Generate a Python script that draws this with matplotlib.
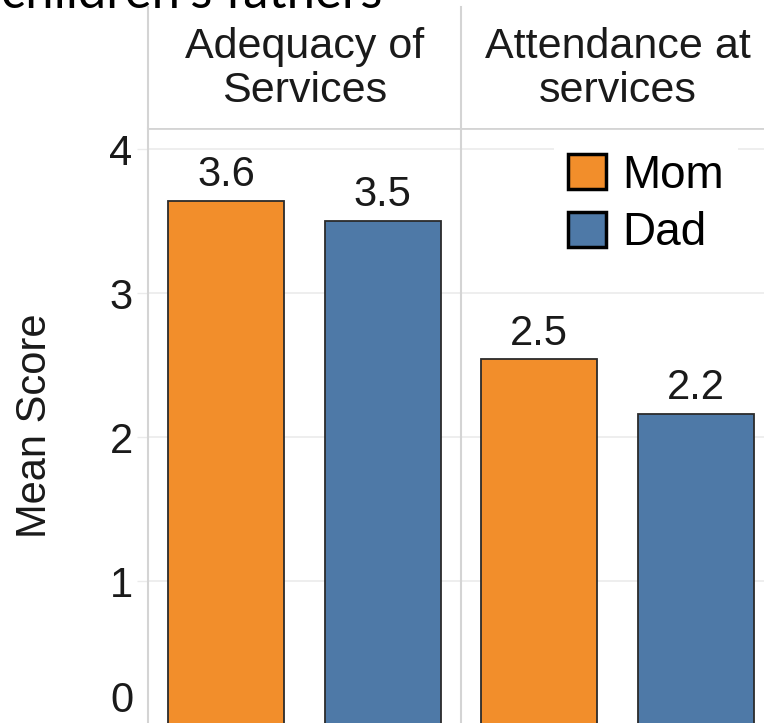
import matplotlib.pyplot as plt
from matplotlib.patches import Patch

plt.rcParams['font.family'] = ['Liberation Sans', 'DejaVu Sans']

# data
panels = ["Adequacy of\nServices", "Attendance at\nservices"]
groups = ["Mom", "Dad"]
mom_scores = [3.64, 2.54]
dad_scores = [3.50, 2.16]
y_ticks = [0, 1, 2, 3, 4]

ORANGE = '#F28E2B'
BLUE = '#4E79A7'
LINE = '#d4d4d4'
GRID = '#ebebeb'
TXT = '#1a1a1a'

W, H = 764, 723


def frame(x0, y0, x1, y1):
    # pixel box (top-left origin) -> figure fraction rect
    return [x0 / W, 1 - y1 / H, (x1 - x0) / W, (y1 - y0) / H]


fig = plt.figure(figsize=(W / 100, H / 100), dpi=100)

ax1 = fig.add_axes(frame(148, 128, 461, 725))
ax2 = fig.add_axes(frame(461, 128, 774, 725), sharey=ax1)
hx1 = fig.add_axes(frame(148, 7, 461, 128))
hx2 = fig.add_axes(frame(461, 7, 774, 128))

for i, (ax, hx) in enumerate([(ax1, hx1), (ax2, hx2)]):
    bars = ax.bar(range(len(groups)), [mom_scores[i], dad_scores[i]], width=0.74,
                  color=[ORANGE, BLUE], edgecolor='#2b2b2b', linewidth=1.3, zorder=2)
    ax.bar_label(bars, fmt='%.1f', padding=4, fontsize=30, color=TXT)
    ax.set_xlim(-0.5, 1.5)
    ax.set_xticks([])
    ax.yaxis.grid(True, color=GRID, linewidth=1.2, zorder=0)
    ax.set_axisbelow(True)
    for side in ['right', 'bottom']:
        ax.spines[side].set_visible(False)
    ax.spines['left'].set_color(LINE)
    ax.spines['top'].set_color(LINE)
    ax.spines['left'].set_linewidth(1.5)
    ax.spines['top'].set_linewidth(2)

    # header strip
    hx.set_xlim(0, 1)
    hx.set_ylim(0, 1)
    hx.set_xticks([])
    hx.set_yticks([])
    for side in ['top', 'right', 'bottom']:
        hx.spines[side].set_visible(False)
    hx.spines['left'].set_color(LINE)
    hx.spines['left'].set_linewidth(1.5)
    hx.text(0.5, 0.49, panels[i], ha='center', va='center', fontsize=31,
            color=TXT, linespacing=1.12)

ax1.set_ylim(0, 4.146)
ax1.set_yticks(y_ticks)
# the lowest label sits just above the cut edge, drawn separately below
ax1.set_yticklabels([''] + [str(t) for t in y_ticks[1:]])
ax1.tick_params(axis='y', length=8, width=1, color=GRID, pad=3, labelsize=30,
                labelcolor=TXT)
ax1.annotate(str(y_ticks[0]), xy=(0, y_ticks[0]), xycoords=ax1.get_yaxis_transform(),
             xytext=(-15, 13), textcoords='offset pixels', ha='right', va='baseline',
             fontsize=30, color=TXT)
ax2.tick_params(axis='y', left=False, labelleft=False)

fig.text(35 / W, 1 - 426 / H, "Mean Score", rotation=90, ha='center', va='center',
         fontsize=30, color=TXT)

# cut-off slide text above the chart
fig.text(1 / W, 1 - 8 / H, "children's fathers", ha='left', va='baseline',
         fontsize=36.5, color='black', family=['Lato', 'DejaVu Sans'])

handles = [Patch(facecolor=ORANGE, edgecolor='black', linewidth=2.5),
           Patch(facecolor=BLUE, edgecolor='black', linewidth=2.5)]
ax2.legend(handles, groups, loc='upper left',
           bbox_to_anchor=(554 / W, 1 - 140 / H), bbox_transform=fig.transFigure,
           fontsize=33, frameon=True, facecolor='white', edgecolor='none',
           framealpha=1, fancybox=False, borderpad=0.3, handlelength=0.84,
           handleheight=0.8, handletextpad=0.36, labelspacing=0.29,
           borderaxespad=0)

fig.savefig('out.png', dpi=100)
